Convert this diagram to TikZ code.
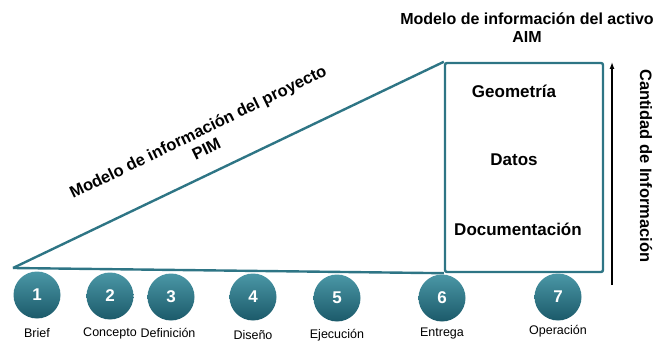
\documentclass[tikz,border=0pt]{standalone}
\usepackage{fontspec}
\setmainfont{Liberation Sans}
\usetikzlibrary{arrows.meta}
\definecolor{tealline}{HTML}{2E7585}
\definecolor{ballhi}{HTML}{4A97A6}
\definecolor{balllo}{HTML}{1C5A6A}

\begin{document}
\begin{tikzpicture}[x=1pt, y=-1pt, stepball/.style={circle, minimum size=47pt, inner sep=0pt, top color=ballhi, bottom color=balllo, text=white, font=\fontsize{17}{17}\selectfont\bfseries}, steplabel/.style={font=\fontsize{12.5}{14}\selectfont}, title/.style={font=\fontsize{16}{18}\selectfont\bfseries, align=center}, model/.style={tealline, line width=2.4pt}, boxtext/.style={font=\fontsize{17}{19}\selectfont\bfseries}]
\useasboundingbox (0,0) rectangle (658,347);
\node[title] (aimtitle) at (527,28) {Modelo de información del activo\\AIM};
\node[title, font=\fontsize{16.5}{19}\selectfont\bfseries, rotate=26] (pimtitle) at (202,140) {Modelo de información del proyecto\\PIM};
\coordinate (start) at (13,268);
\node[draw=tealline, line width=2.4pt, rounded corners=2pt, minimum width=158pt, minimum height=209pt, inner sep=0pt] (aim) at (524,167.5) {};
\draw[model] (start) -- (aim.north west);\draw[model] (start) -- (aim.south west);
\node[boxtext] (geo) at (514,91) {Geometría};
\node[boxtext] (datos) at (514,160) {Datos};
\node[boxtext] (doc) at (518,229) {Documentación};
\coordinate (qlow) at (612,285);\coordinate (qhigh) at (612,62);
\draw[-{Latex[length=7pt, width=5pt]}, line width=1.3pt] (qlow) -- (qhigh);
\node[title, font=\fontsize{16.5}{18}\selectfont\bfseries, rotate=-90] (cantidad) at (646,166) {Cantidad de Información};
\node[stepball] (s1) at (37,295) {1};\node[steplabel] (l1) at (37,333) {Brief};
\node[stepball] (s2) at (110,296) {2};\node[steplabel] (l2) at (110,333) {Concepto};
\node[stepball] (s3) at (171,297) {3};\node[steplabel] (l3) at (168,333) {Definición};
\node[stepball] (s4) at (253,297) {4};\node[steplabel] (l4) at (253,335) {Diseño};
\node[stepball] (s5) at (337,298) {5};\node[steplabel] (l5) at (337,335) {Ejecución};
\node[stepball] (s6) at (442,298) {6};\node[steplabel] (l6) at (442,333) {Entrega};
\node[stepball] (s7) at (558,297) {7};\node[steplabel] (l7) at (558,331) {Operación};
\end{tikzpicture}
\end{document}
